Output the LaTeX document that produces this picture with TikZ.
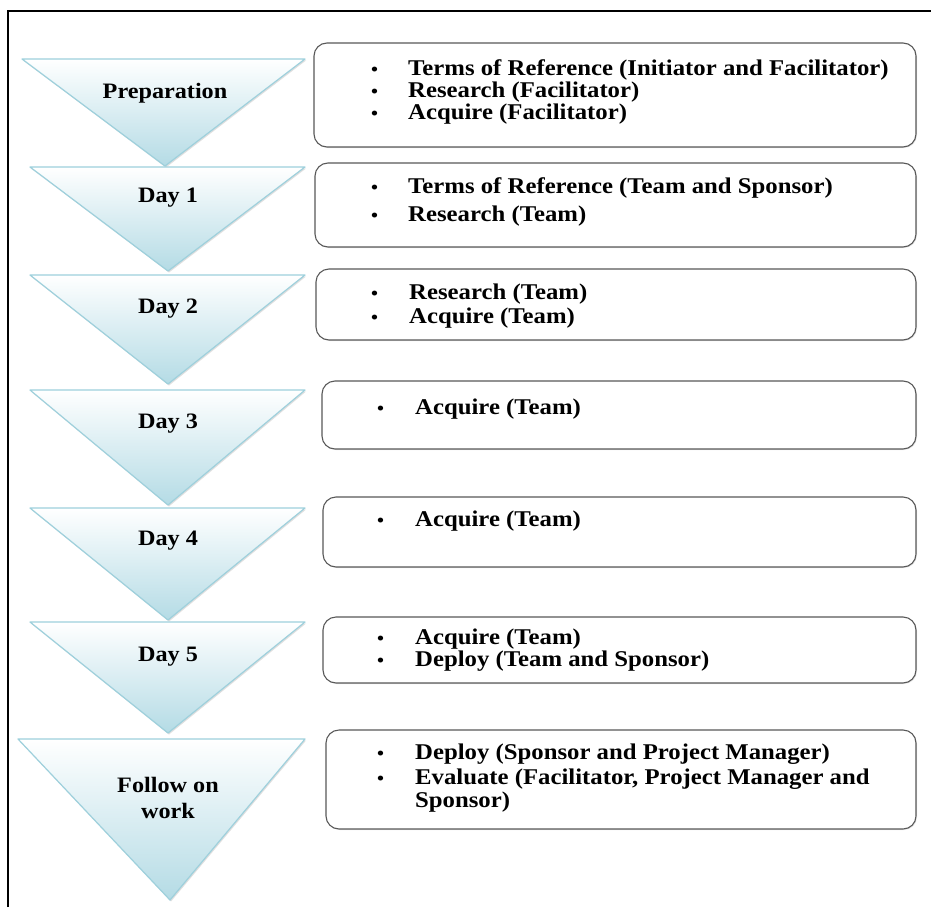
\documentclass[tikz,border=0pt]{standalone}
\usepackage{fontspec}
\setmainfont[FakeStretch=1.1]{Liberation Serif}
\usetikzlibrary{shadows}
\definecolor{triblue}{HTML}{B4DBE5}
\definecolor{triedge}{HTML}{9ED0DC}
\definecolor{boxedge}{HTML}{595959}
\tikzset{
  phase/.style={top color=white, bottom color=triblue, draw=triedge, line width=1.2pt, line join=round,
    drop shadow={opacity=0.25, shadow xshift=1pt, shadow yshift=-1.5pt}},
  taskbox/.style={draw=boxedge, line width=1.1pt, rounded corners=13pt, fill=white,
    drop shadow={opacity=0.2, shadow xshift=1pt, shadow yshift=-1pt}},
  phaselabel/.style={font=\bfseries\fontsize{22}{26}\selectfont, align=center, inner sep=0pt},
  dot/.style={font=\bfseries\fontsize{18}{22}\selectfont, anchor=base west, inner sep=0pt},
  tasktext/.style={font=\bfseries\fontsize{22.5}{24}\selectfont, anchor=base west, inner sep=0pt},
}
\begin{document}
\begin{tikzpicture}[x=1pt,y=-1pt]
\useasboundingbox (0,0) rectangle (931,907);
\fill[white] (0,0) rectangle (931,907);
% outer frame
\draw[line width=1.6pt] (8,907) -- (8,11) -- (931,11);

% phases
\draw[phase] (22,59) -- (305,59) -- (165,166) -- cycle;
\draw[phase] (30,167) -- (305,167) -- (168,271) -- cycle;
\draw[phase] (30,275) -- (305,275) -- (168,384) -- cycle;
\draw[phase] (30,390) -- (305,390) -- (168,505) -- cycle;
\draw[phase] (30,508) -- (305,508) -- (168,620) -- cycle;
\draw[phase] (30,622) -- (305,622) -- (168,733) -- cycle;
\draw[phase] (18,739) -- (305,739) -- (170,900) -- cycle;

\node[phaselabel] (prep) at (165,93) {Preparation};
\node[phaselabel] (day1) at (168,198) {Day 1};
\node[phaselabel] (day2) at (168,309) {Day 2};
\node[phaselabel] (day3) at (168,424) {Day 3};
\node[phaselabel] (day4) at (168,541) {Day 4};
\node[phaselabel] (day5) at (168,657) {Day 5};
\node[phaselabel] (follow) at (168,798) {Follow on\\work};

% task boxes
\draw[taskbox] (314,43) rectangle (916,147);
\draw[taskbox] (315,163) rectangle (916,247);
\draw[taskbox] (316,269) rectangle (916,340);
\draw[taskbox] (322,381) rectangle (916,449);
\draw[taskbox] (323,497) rectangle (916,567);
\draw[taskbox] (323,617) rectangle (916,683);
\draw[taskbox] (326,730) rectangle (916,829);

% preparation
\node[dot] (b11) at (371,75) {•};
\node[tasktext] (t11) at (408,75) {Terms of Reference (Initiator and Facilitator)};
\node[dot] (b12) at (371,97) {•};
\node[tasktext] (t12) at (408,97) {Research (Facilitator)};
\node[dot] (b13) at (371,119) {•};
\node[tasktext] (t13) at (408,119) {Acquire (Facilitator)};
% day 1
\node[dot] (b21) at (371,193) {•};
\node[tasktext] (t21) at (408,193) {Terms of Reference (Team and Sponsor)};
\node[dot] (b22) at (371,221) {•};
\node[tasktext] (t22) at (408,221) {Research (Team)};
% day 2
\node[dot] (b31) at (371,299) {•};
\node[tasktext] (t31) at (409,299) {Research (Team)};
\node[dot] (b32) at (371,323) {•};
\node[tasktext] (t32) at (409,323) {Acquire (Team)};
% day 3
\node[dot] (b41) at (377,414) {•};
\node[tasktext] (t41) at (415,414) {Acquire (Team)};
% day 4
\node[dot] (b51) at (377,526) {•};
\node[tasktext] (t51) at (415,526) {Acquire (Team)};
% day 5
\node[dot] (b61) at (377,644) {•};
\node[tasktext] (t61) at (415,644) {Acquire (Team)};
\node[dot] (b62) at (377,666) {•};
\node[tasktext] (t62) at (415,666) {Deploy (Team and Sponsor)};
% follow on work
\node[dot] (b71) at (377,759) {•};
\node[tasktext] (t71) at (415,759) {Deploy (Sponsor and Project Manager)};
\node[dot] (b72) at (377,784) {•};
\node[tasktext] (t72) at (415,784) {Evaluate (Facilitator, Project Manager and};
\node[tasktext] (t73) at (415,807) {Sponsor)};
\end{tikzpicture}
\end{document}
